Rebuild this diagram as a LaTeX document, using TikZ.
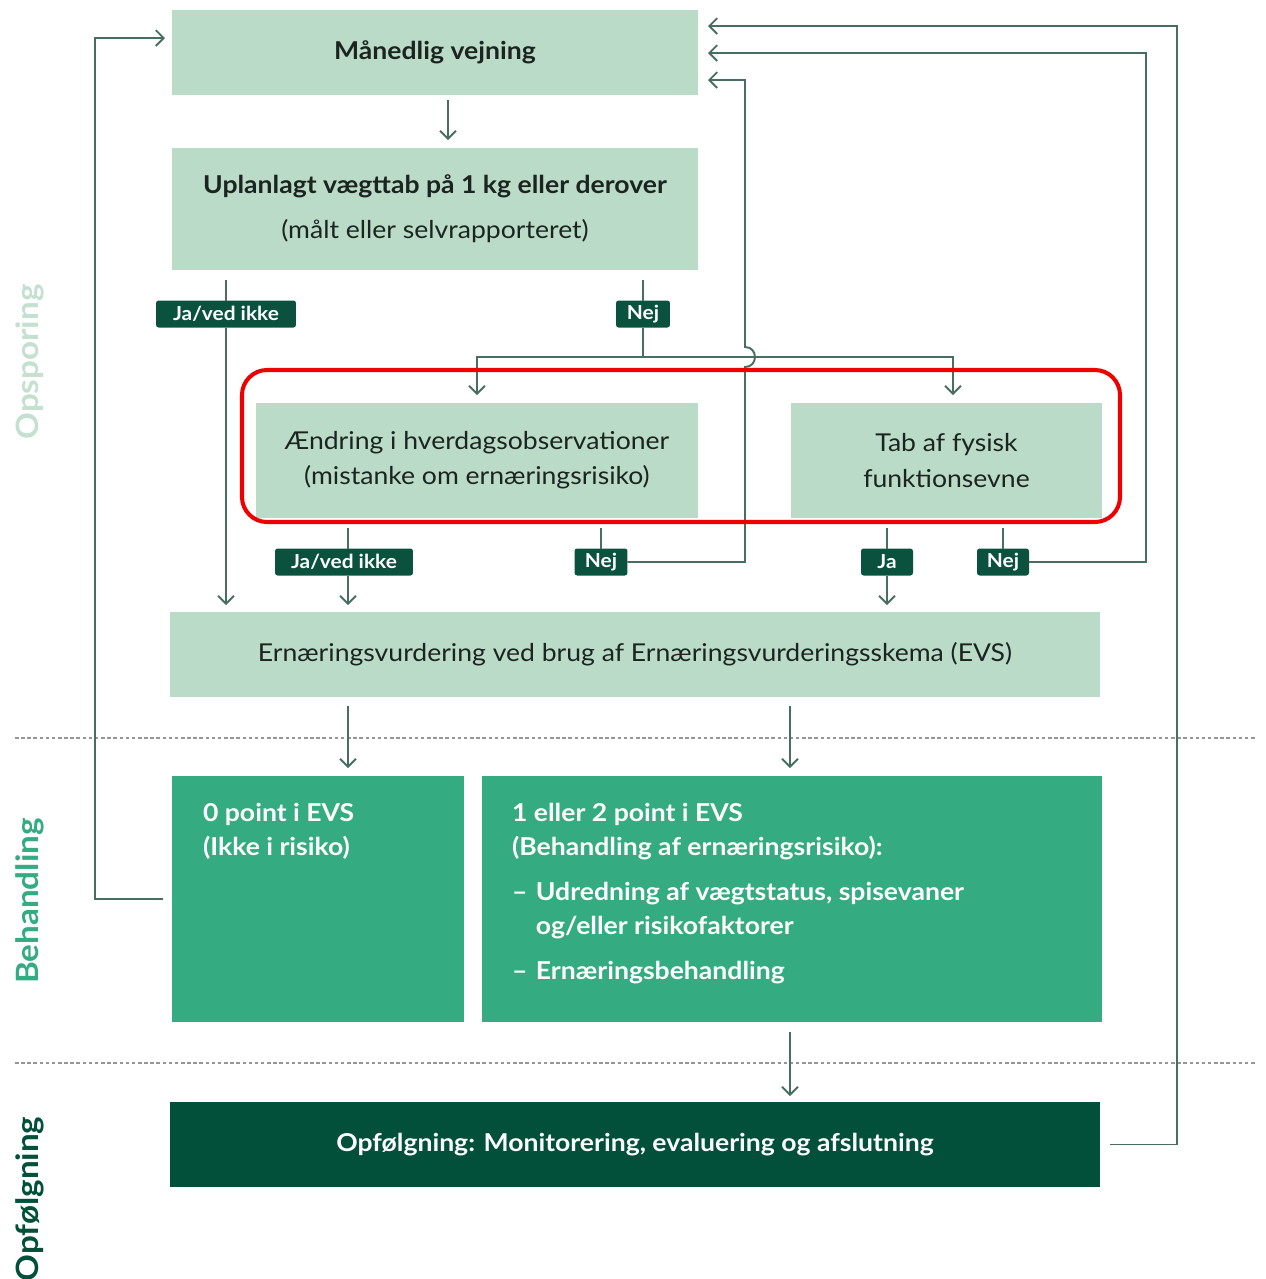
\documentclass[tikz,border=0pt]{standalone}
\usepackage{fontspec}
\setmainfont{Lato}[FakeStretch=1.08]
\usetikzlibrary{arrows.meta,calc}
\definecolor{boxlight}{RGB}{186,219,199}
\definecolor{boxmid}{RGB}{52,171,128}
\definecolor{boxdark}{RGB}{2,80,58}
\definecolor{badgec}{RGB}{10,82,62}
\definecolor{linec}{RGB}{72,110,98}
\definecolor{ink}{RGB}{28,36,32}
\definecolor{sepc}{RGB}{150,150,150}
\definecolor{lblfaint}{RGB}{196,224,208}
\definecolor{hl}{RGB}{238,0,0}
\begin{document}
\begin{tikzpicture}[x=0.02cm,y=-0.02cm,
  every node/.style={inner sep=0pt,outer sep=0pt},
  lbox/.style={fill=boxlight,text=ink,align=center,font=\fontsize{14}{20}\selectfont},
  gbox/.style={fill=boxmid},
  dbox/.style={fill=boxdark,text=white,align=center,font=\bfseries\fontsize{14}{20}\selectfont},
  badge/.style={fill=badgec,text=white,rounded corners=1.5pt,minimum height=0.54cm,inner xsep=0pt,font=\bfseries\fontsize{11}{12}\selectfont},
  conn/.style={draw=linec,line width=1.1pt},
  arr/.style={conn,-{Straight Barb[length=4.5pt,width=9pt,line width=1.1pt]}},
  sep/.style={draw=sepc,line width=0.8pt,dash pattern=on 2pt off 1.5pt},
  side/.style={rotate=90,font=\bfseries\fontsize{17.5}{20}\selectfont},
]
\useasboundingbox (0,0) rectangle (1266,1279);

% column and row guides
\coordinate (cjl) at (226,0);
\coordinate (cn1) at (643,0);
\coordinate (ca) at (477,0);
\coordinate (ct) at (953,0);
\coordinate (cv) at (745,0);
\coordinate (c348) at (348,0);
\coordinate (c601) at (601,0);
\coordinate (c887) at (887,0);
\coordinate (c1003) at (1003,0);
\coordinate (c1146) at (1146,0);
\coordinate (c1177) at (1177,0);
\coordinate (c95) at (95,0);
\coordinate (c448) at (448,0);
\coordinate (c790) at (790,0);
\coordinate (rh) at (0,357);
\coordinate (t1) at (708,26);
\coordinate (t2) at (708,53);
\coordinate (t3) at (708,80);
\coordinate (l1) at (165,38);
\coordinate (jb) at (745,367);
\coordinate (jt) at (745,347);

% boxes
\node[lbox,minimum width=10.52cm,minimum height=1.70cm,font=\bfseries\fontsize{14}{20}\selectfont] (mv) at (435,52.5) {Månedlig vejning};
\node[lbox,minimum width=10.52cm,minimum height=2.44cm] (up) at (435,209)
  {\textbf{Uplanlagt vægttab på 1 kg eller derover}\\[5.5pt](målt eller selvrapporteret)};
\node[lbox,minimum width=8.84cm,minimum height=2.30cm] (ae) at (477,460.5)
  {Ændring i hverdagsobservationer\\(mistanke om ernæringsrisiko)};
\node[lbox,minimum width=6.22cm,minimum height=2.30cm] (tab) at (946.5,460.5)
  {Tab af fysisk\\funktionsevne};
\node[lbox,minimum width=18.60cm,minimum height=1.70cm] (evs) at (635,654.5)
  {Ernæringsvurdering ved brug af Ernæringsvurderingsskema (EVS)};
\node[gbox,minimum width=5.84cm,minimum height=4.92cm] (p0) at (318,899) {};
\node[gbox,minimum width=12.40cm,minimum height=4.92cm] (p12) at (792,899) {};
\node[dbox,minimum width=18.60cm,minimum height=1.70cm] (opf) at (635,1144.5)
  {Opfølgning: Monitorering, evaluering og afslutning};

\node[anchor=north west,align=left,text=white,font=\bfseries\fontsize{14}{19.5}\selectfont]
  at ($(p0.north west)+(31,27)$) {0 point i EVS\\(Ikke i risiko)};
\node[anchor=north west,align=left,text=white,font=\bfseries\fontsize{14}{19.5}\selectfont]
  at ($(p12.north west)+(30,27)$)
  {1 eller 2 point i EVS\\
   (Behandling af ernæringsrisiko):\\[6pt]
   \makebox[13.6pt][l]{–}Udredning af vægtstatus, spisevaner\\
   \hspace*{13.6pt}og/eller risikofaktorer\\[6pt]
   \makebox[13.6pt][l]{–}Ernæringsbehandling};

% decision badges
\node[badge,minimum width=2.80cm] (b1) at (226,314) {Ja/ved ikke};
\node[badge,minimum width=1.08cm] (n1) at (643,314) {Nej};
\node[badge,minimum width=2.76cm] (b2) at (344,562) {Ja/ved ikke};
\node[badge,minimum width=1.06cm] (n2) at (601,562) {Nej};
\node[badge,minimum width=1.04cm] (b3) at (887,562) {Ja};
\node[badge,minimum width=1.04cm] (n4) at (1003,562) {Nej};

% phase labels
\node[side,text=lblfaint] at (30,362) {Opsporing};
\node[side,text=boxmid] at (30,901) {Behandling};
\node[side,text=boxdark] at (30,1199) {Opfølgning};

% phase separators
\draw[sep] (15,738) -- (1256,738);
\draw[sep] (15,1063) -- (1256,1063);

% connectors
\draw[arr,shorten <=0.1cm,shorten >=0.16cm] (mv.south -| c448) -- (up.north -| c448);
\draw[conn,shorten <=0.2cm] (up.south -| cjl) -- (b1.north);
\draw[arr,shorten >=0.14cm] (b1.south) -- (evs.north -| cjl);
\draw[conn,shorten <=0.2cm] (up.south -| cn1) -- (n1.north);
\draw[arr,shorten >=0.16cm] (n1.south) -- (n1.south |- rh) -| (ae.north -| ca);
\draw[arr,shorten >=0.16cm] (n1.south |- rh) -| (tab.north -| ct);

\draw[conn,shorten <=0.2cm] (ae.south -| c348) -- (b2.north -| c348);
\draw[arr,shorten >=0.14cm] (b2.south -| c348) -- (evs.north -| c348);
\draw[conn,shorten <=0.2cm] (ae.south -| c601) -- (n2.north);
\draw[arr] (n2.east) -- (n2.east -| cv) -- (jb) .. controls (758.3,367) and (758.3,347) .. (jt) -- (t3 -| cv) -- (t3);

\draw[conn,shorten <=0.2cm] (tab.south -| c887) -- (b3.north);
\draw[arr,shorten >=0.14cm] (b3.south) -- (evs.north -| c887);
\draw[conn,shorten <=0.2cm] (tab.south -| c1003) -- (n4.north);
\draw[arr] (n4.east) -| (t2 -| c1146) -- (t2);

\draw[arr,shorten <=0.18cm,shorten >=0.16cm] (evs.south -| c348) -- (p0.north -| c348);
\draw[arr,shorten <=0.18cm,shorten >=0.16cm] (evs.south -| c790) -- (p12.north -| c790);
\draw[arr,shorten <=0.2cm,shorten >=0.12cm] (p12.south -| c790) -- (opf.north -| c790);

\draw[arr,shorten <=0.2cm] (opf.east) -| (t1 -| c1177) -- (t1);
\draw[arr,shorten <=0.18cm] (p0.west) -- (p0.west -| c95) |- (l1);

% highlight frame
\draw[hl,line width=2.3pt,rounded corners=0.5cm] (242,370) rectangle (1120,522);
\end{tikzpicture}
\end{document}
